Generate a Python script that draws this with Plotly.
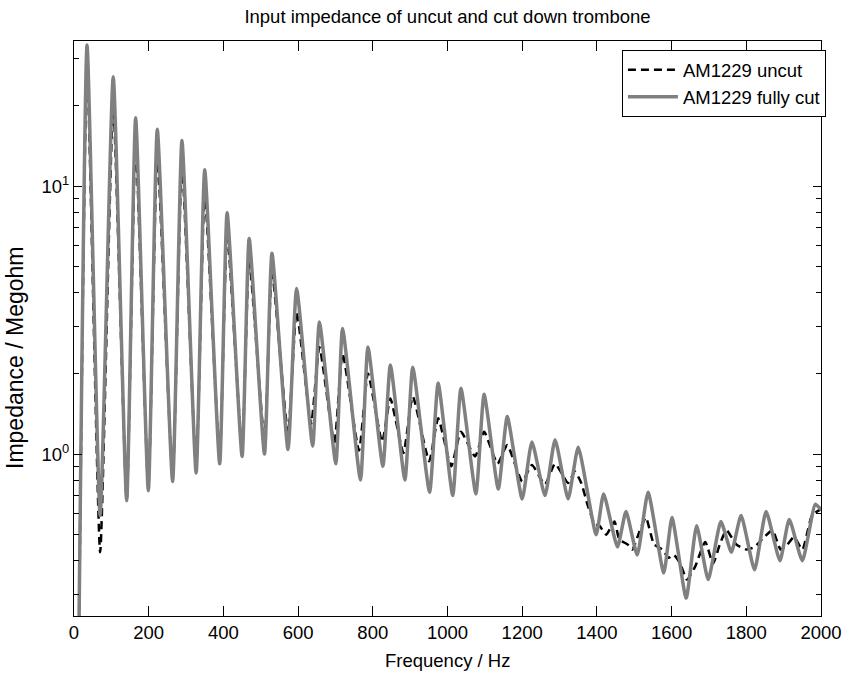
import math
import plotly.graph_objects as go

# ---- data ----
uncut_freq = [12, 35, 70, 105, 141, 165, 199, 223, 264, 289, 327, 350, 390, 410, 450, 469,
              510, 530, 573, 596, 635, 657, 697, 719, 763, 787, 825, 847, 882, 907, 951, 975,
              1010, 1036, 1074, 1098, 1134, 1160, 1200, 1226, 1261, 1288, 1323, 1341, 1358,
              1376, 1394, 1407, 1425, 1447, 1460, 1482, 1495, 1513, 1531, 1553, 1575, 1592,
              1606, 1623, 1641, 1663, 1690, 1711, 1729, 1747, 1773, 1800, 1822, 1848, 1870,
              1892, 1910, 1928, 1950, 1976, 1998]
uncut_imp = [0.15, 28, 0.43, 20, 0.68, 14.5, 0.75, 13.0, 0.82, 12.0, 0.90, 9.4, 0.98, 6.7, 1.05, 5.3,
             1.12, 4.8, 1.20, 3.4, 1.30, 2.51, 1.10, 2.37, 1.03, 2.0, 1.11, 1.61, 1.01, 1.64, 0.94, 1.36,
             0.90, 1.21, 0.98, 1.21, 0.92, 1.08, 0.79, 0.91, 0.77, 0.92, 0.78, 0.86, 0.78,
             0.64, 0.55, 0.54, 0.50, 0.56, 0.48, 0.46, 0.44, 0.51, 0.58, 0.46, 0.44, 0.41,
             0.42, 0.39, 0.34, 0.38, 0.47, 0.39, 0.46, 0.52, 0.46, 0.44, 0.45, 0.49, 0.52,
             0.44, 0.46, 0.49, 0.44, 0.59, 0.62]

cut_freq = [12, 35, 70, 105, 141, 165, 199, 223, 264, 289, 327, 350, 390, 410, 450, 469,
            510, 530, 573, 596, 639, 657, 701, 719, 767, 787, 827, 847, 886, 907, 952, 975,
            1014, 1036, 1076, 1098, 1136, 1160, 1200, 1226, 1261, 1288, 1323, 1350, 1398, 1418,
            1455, 1478, 1508, 1537, 1579, 1601, 1639, 1667, 1698, 1732, 1760, 1786, 1822, 1853,
            1890, 1915, 1950, 1985, 2000]
cut_imp = [0.15, 33.6, 0.59, 25.6, 0.67, 18.0, 0.73, 16.3, 0.79, 14.8, 0.85, 11.5, 0.92, 7.95, 0.98, 6.38,
           1.00, 5.61, 1.04, 4.15, 1.07, 3.11, 0.92, 2.94, 0.80, 2.51, 0.90, 2.15, 0.80, 2.11, 0.72, 1.84,
           0.70, 1.76, 0.71, 1.67, 0.74, 1.38, 0.68, 1.11, 0.70, 1.13, 0.68, 1.06, 0.50, 0.71,
           0.45, 0.61, 0.42, 0.72, 0.36, 0.58, 0.29, 0.54, 0.34, 0.56, 0.43, 0.59, 0.37, 0.61,
           0.40, 0.57, 0.40, 0.65, 0.62]

x_ticks = [0, 200, 400, 600, 800, 1000, 1200, 1400, 1600, 1800, 2000]
y_major = [1, 10]
y_major_text = ["10<sup>0</sup>", "10<sup>1</sup>"]
y_minor = [0.3, 0.4, 0.5, 0.6, 0.7, 0.8, 0.9, 2, 3, 4, 5, 6, 7, 8, 9, 20, 30]
x_range = [0, 2000]
y_range = [0.2486, 34.8]

FONT = "Liberation Sans, Arial, sans-serif"
FS = 18.5

fig = go.Figure()
fig.add_trace(go.Scatter(x=uncut_freq, y=uncut_imp, mode="lines", name="AM1229 uncut",
                         line=dict(color="black", width=2.5, dash="8px,5px", shape="spline",
                                   smoothing=0.5)))
fig.add_trace(go.Scatter(x=cut_freq, y=cut_imp, mode="lines", name="AM1229 fully cut",
                         line=dict(color="#808080", width=3.5, shape="spline", smoothing=0.5)))

fig.update_layout(
    width=854, height=677,
    margin=dict(l=73.5, r=25, t=41, b=61),
    paper_bgcolor="white", plot_bgcolor="white",
    font=dict(family=FONT, size=FS, color="black"),
    title=dict(text="Input impedance of uncut and cut down trombone", x=0.5, xref="paper",
               xanchor="center", y=1 - 17 / 677, yref="container", yanchor="middle",
               font=dict(family=FONT, size=FS, color="black")),
    legend=dict(x=1.0066, y=0.984, xanchor="right", yanchor="top", itemwidth=50,
                bgcolor="white", bordercolor="black", borderwidth=1,
                font=dict(family=FONT, size=FS, color="black")),
    xaxis=dict(range=x_range, tickvals=x_ticks, ticks="inside", ticklen=10, tickcolor="black",
               showline=True, linecolor="black", linewidth=1, mirror="ticks",
               showgrid=False, zeroline=False, tickfont=dict(family=FONT, size=FS)),
    yaxis=dict(type="log", range=[math.log10(y_range[0]), math.log10(y_range[1])],
               tickvals=y_major, ticktext=y_major_text, ticks="inside", ticklen=8,
               tickcolor="black", showline=True, linecolor="black", linewidth=1, mirror="ticks",
               showgrid=False, zeroline=False, tickfont=dict(family=FONT, size=FS),
               minor=dict(tickvals=y_minor, ticks="inside", ticklen=5, tickcolor="black")),
    annotations=[
        dict(text="Frequency / Hz", x=0.5, xref="paper", y=(616 - 660) / 575, yref="paper",
             xanchor="center", yanchor="middle", showarrow=False,
             font=dict(family=FONT, size=FS, color="black")),
        dict(text="Impedance / Megohm", x=(14 - 73.5) / 755.5, xref="paper", y=0.449, yref="paper",
             xanchor="center", yanchor="middle", textangle=-90, showarrow=False,
             font=dict(family=FONT, size=23, color="black")),
    ],
)

fig.write_html("out.html")
